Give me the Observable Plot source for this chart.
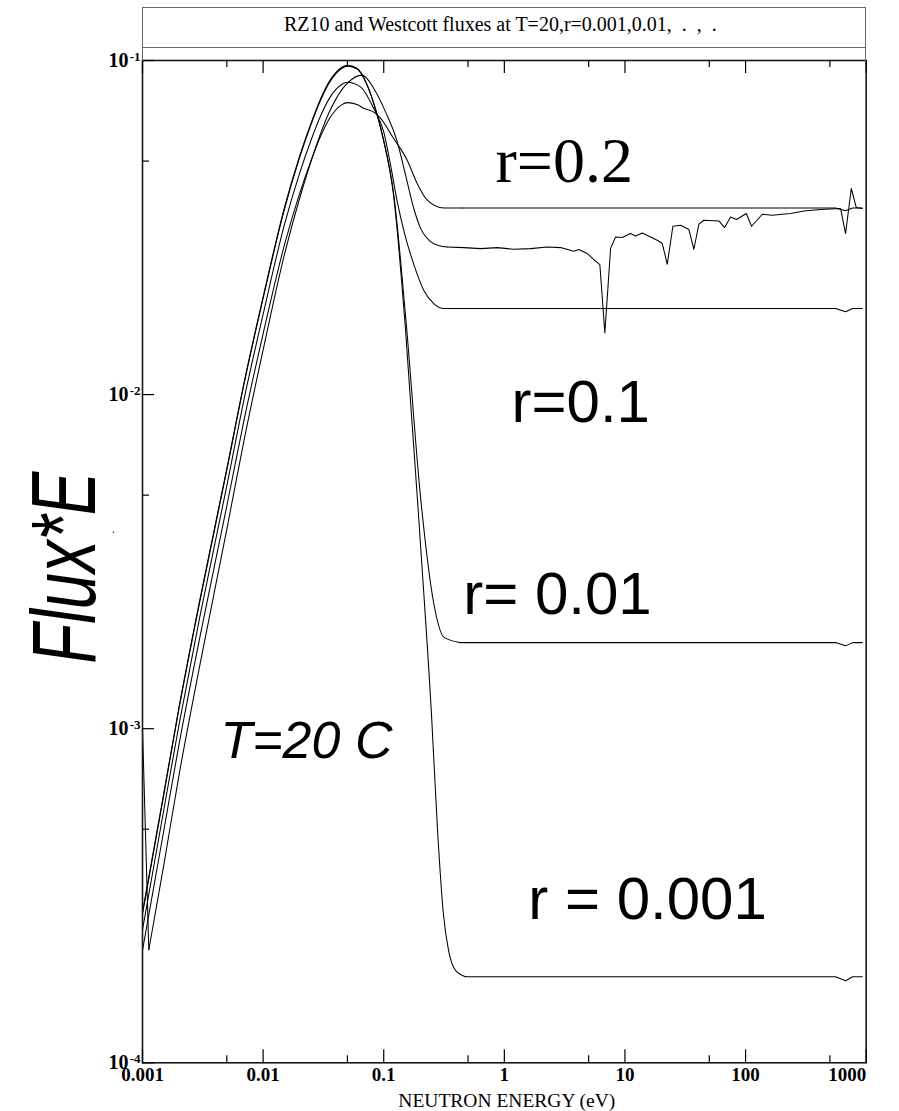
<!DOCTYPE html>
<html>
<head>
<meta charset="utf-8">
<script src="https://cdn.jsdelivr.net/npm/d3@7"></script>
<script src="https://cdn.jsdelivr.net/npm/@observablehq/plot@0.6"></script>
<style>
  html, body { margin: 0; padding: 0; background: #fff; }
  #wrap { position: relative; width: 899px; height: 1111px; overflow: hidden; }
  #wrap svg { position: absolute; left: 0; top: 0; }
  #wrap svg text { white-space: pre; }
  .box1 { position: absolute; left: 142px; top: 7px; width: 724px; height: 41px; box-sizing: border-box; border: 1.5px solid #666; }
  .box2 { position: absolute; left: 142px; top: 47px; width: 724px; height: 14px; box-sizing: border-box; border-left: 1.5px solid #666; border-right: 1.5px solid #666; }
</style>
</head>
<body>
<div id="wrap"></div>
<script>
// ---------------- data ----------------
const titleText = "RZ10 and Westcott fluxes at T=20,r=0.001,0.01,  .  ,  .";
const xLabel = "NEUTRON ENERGY (eV)";
const yLabel = "Flux*E";

const xMajor = [0.001, 0.01, 0.1, 1, 10, 100, 1000];
const xTickLabels = ["0.001", "0.01", "0.1", "1", "10", "100", "1000"];
const xMinor = [0.005, 0.05, 0.5, 5, 50, 500];
const yMajor = [0.1, 0.01, 0.001, 0.0001];
const yExponents = ["-1", "-2", "-3", "-4"];
const yMinor = [0.05, 0.005, 0.0005];

// thermal rise, common energies for the four Westcott curves
const energyLeft = [0.001, 0.0015, 0.002, 0.003, 0.005, 0.007, 0.01, 0.015, 0.02, 0.025, 0.03, 0.035, 0.04, 0.045, 0.05];
const fluxR0001Left = [2.82e-4, 6.4e-4, 1.15e-3, 2.45e-3, 6.0e-3, 0.0110, 0.0196, 0.0362, 0.0515, 0.065, 0.0768, 0.086, 0.092, 0.0955, 0.0968];
const fluxR001Left  = [2.79e-4, 6.33e-4, 1.14e-3, 2.42e-3, 5.94e-3, 0.0109, 0.0194, 0.0358, 0.0510, 0.0644, 0.0761, 0.0852, 0.0912, 0.0948, 0.0962];
const fluxR01Left   = [2.50e-4, 5.7e-4, 1.02e-3, 2.18e-3, 5.33e-3, 9.8e-3, 0.0174, 0.0322, 0.0458, 0.0578, 0.0683, 0.0765, 0.0818, 0.0849, 0.0861];
const fluxR02Left   = [2.17e-4, 4.95e-4, 8.9e-4, 1.89e-3, 4.64e-3, 8.5e-3, 0.0152, 0.0280, 0.0398, 0.0502, 0.0594, 0.0665, 0.0711, 0.0738, 0.0748];

// fall-off to the epithermal plateau
const energyR0001Right = [0.0603, 0.073, 0.0883, 0.1002, 0.1206, 0.1517, 0.2019, 0.2491, 0.2794, 0.3133, 0.3446, 0.3939, 0.4768];
const fluxR0001Right   = [0.0946, 0.0844, 0.0686, 0.0571, 0.0395, 0.01557, 3.54e-3, 1.096e-3, 4.96e-4, 2.76e-4, 2.17e-4, 1.89e-4, 1.81e-4];
const energyR001Right  = [0.0603, 0.073, 0.0883, 0.1002, 0.1206, 0.1517, 0.2019, 0.26, 0.315, 0.433];
const fluxR001Right    = [0.0942, 0.0842, 0.0688, 0.0575, 0.0402, 0.0172, 4.94e-3, 2.37e-3, 1.88e-3, 1.81e-3];
const energyR01Right   = [0.0642, 0.0827, 0.1, 0.115, 0.1294, 0.15, 0.1777, 0.215, 0.26, 0.315, 0.45];
const fluxR01Right     = [0.0834, 0.0718, 0.0611, 0.0478, 0.0378, 0.0300, 0.0245, 0.0205, 0.01873, 0.01809, 0.0181];
const energyR02Right   = [0.06, 0.0683, 0.0855, 0.094, 0.1206, 0.1566, 0.1896, 0.2295, 0.315, 0.45];
const fluxR02Right     = [0.0738, 0.072, 0.0695, 0.0672, 0.0585, 0.0503, 0.0428, 0.0382, 0.0362, 0.0362];

// plateau end with the small dip near 700 eV
const energyTail = [557, 675, 771, 928];
const fluxR0001Tail = [1.81e-4, 1.76e-4, 1.81e-4, 1.81e-4];
const fluxR001Tail  = [1.81e-3, 1.77e-3, 1.81e-3, 1.81e-3];
const fluxR01Tail   = [0.0181, 0.0177, 0.0181, 0.0181];
const fluxR02Tail   = [0.0362, 0.0355, 0.0362, 0.0362];

// RZ10 spectrum
const energyRZSpike = [0.001, 0.001128];
const fluxRZSpike   = [1.0e-3, 2.18e-4];
const energyRZSmooth = [0.001128, 0.0015, 0.002, 0.003, 0.005, 0.007, 0.01, 0.015, 0.02, 0.025, 0.03, 0.035, 0.04, 0.05, 0.0663, 0.0827, 0.1035, 0.1294, 0.1516, 0.1777, 0.2019, 0.2444, 0.29, 0.336];
const fluxRZSmooth   = [2.18e-4, 3.9e-4, 7.2e-4, 1.56e-3, 3.95e-3, 7.4e-3, 0.0136, 0.0262, 0.0385, 0.0500, 0.0605, 0.0695, 0.0765, 0.0855, 0.0904, 0.0825, 0.0702, 0.0571, 0.0455, 0.0360, 0.0315, 0.0287, 0.0279, 0.02767];
const energyRZJag = [0.336, 0.4615, 0.635, 0.873, 1.199, 1.649, 2.268, 2.924, 3.77, 4.147, 4.87, 5.52, 6.19, 6.81, 7.60, 8.36, 9.50, 11.13, 12.24, 13.91, 18.52, 20.39, 22.42, 24.96, 28.91, 33.88, 37.26, 41.01, 45.11, 60.06, 66.96, 75.08, 84.22, 101.3, 112.1, 137.6, 166.5, 201.5, 236.1, 304.3, 418.7, 613.5, 674.8, 752.3, 827.9, 928.4];
const fluxRZJag   = [0.02767, 0.02754, 0.02735, 0.02754, 0.02723, 0.02735, 0.02767, 0.02754, 0.02685, 0.02718, 0.02644, 0.02536, 0.02450, 0.01529, 0.0274, 0.02964, 0.02952, 0.03034, 0.02985, 0.03046, 0.02897, 0.02832, 0.02455, 0.03191, 0.03213, 0.03119, 0.02723, 0.03236, 0.03326, 0.03310, 0.03162, 0.03402, 0.03342, 0.03483, 0.03191, 0.03466, 0.03442, 0.03466, 0.03483, 0.03546, 0.03580, 0.03604, 0.03034, 0.04139, 0.03629, 0.03604];

// annotations (text, energy, flux)
const annoText = ["r=0.2", "r=0.1", "r= 0.01", "r = 0.001", "T=20 C"];
const annoE = [0.845, 1.147, 0.456, 1.579, 0.00443];
const annoF = [0.0433, 8.28e-3, 2.20e-3, 2.70e-4, 8.15e-4];

// ---------------- build tables ----------------
function rows(curve, part, E, F) {
  return E.map((e, i) => ({curve, part, key: curve + "|" + part, E: e, F: F[i]}));
}
const smoothRows = [
  ...rows("r=0.001", "main", [...energyLeft, ...energyR0001Right], [...fluxR0001Left, ...fluxR0001Right]),
  ...rows("r=0.01", "main", [...energyLeft, ...energyR001Right], [...fluxR001Left, ...fluxR001Right]),
  ...rows("r=0.1", "main", [...energyLeft, ...energyR01Right], [...fluxR01Left, ...fluxR01Right]),
  ...rows("r=0.2", "main", [...energyLeft, ...energyR02Right], [...fluxR02Left, ...fluxR02Right]),
  ...rows("RZ10", "main", energyRZSmooth, fluxRZSmooth)
];
const linearRows = [
  ...rows("r=0.001", "tail", [energyR0001Right.at(-1), ...energyTail], [fluxR0001Right.at(-1), ...fluxR0001Tail]),
  ...rows("r=0.01", "tail", [energyR001Right.at(-1), ...energyTail], [fluxR001Right.at(-1), ...fluxR001Tail]),
  ...rows("r=0.1", "tail", [energyR01Right.at(-1), ...energyTail], [fluxR01Right.at(-1), ...fluxR01Tail]),
  ...rows("r=0.2", "tail", [energyR02Right.at(-1), ...energyTail], [fluxR02Right.at(-1), ...fluxR02Tail]),
  ...rows("RZ10", "spike", energyRZSpike, fluxRZSpike),
  ...rows("RZ10", "jag", energyRZJag, fluxRZJag)
];
const annos = annoText.map((t, i) => ({t, E: annoE[i], F: annoF[i]}));

// ---------------- layout ----------------
const W = 899, H = 1111;
const mL = 142, mR = 33.3, mT = 60, mB = 48.7;
const innerW = W - mL - mR, innerH = H - mT - mB;
const SERIF = "'Liberation Serif', 'Times New Roman', serif";
const SANS = "'Liberation Sans', Arial, sans-serif";
const ink = "#000";

const chart = Plot.plot({
  width: W, height: H,
  marginLeft: mL, marginRight: mR, marginTop: mT, marginBottom: mB,
  style: {background: "transparent", color: ink},
  x: {type: "log", domain: [0.001, 1000], axis: null},
  y: {type: "log", domain: [1e-4, 1e-1], axis: null},
  marks: [
    // curves
    Plot.line(smoothRows, {x: "E", y: "F", z: "key", stroke: ink, strokeWidth: 1.05, curve: "monotone-x"}),
    Plot.line(linearRows, {x: "E", y: "F", z: "key", stroke: ink, strokeWidth: 1.05}),
    // frame
    Plot.frame({stroke: "#1a1a1a", strokeWidth: 1.6}),
    // inward ticks
    Plot.tickX(xMajor, {x: d => d, insetTop: innerH - 13, stroke: ink, strokeWidth: 1.2}),
    Plot.tickX(xMinor, {x: d => d, insetTop: innerH - 7, stroke: ink, strokeWidth: 1.2}),
    Plot.tickX(xMajor, {x: d => d, insetBottom: innerH - 13, stroke: ink, strokeWidth: 1.2}),
    Plot.tickX(xMinor, {x: d => d, insetBottom: innerH - 7, stroke: ink, strokeWidth: 1.2}),
    Plot.tickY(yMajor, {y: d => d, insetRight: innerW - 12, stroke: ink, strokeWidth: 1.2}),
    Plot.tickY(yMinor, {y: d => d, insetRight: innerW - 7, stroke: ink, strokeWidth: 1.2}),
    // x tick labels
    Plot.text(xMajor.slice(0, -1), {x: d => d, text: (d, i) => xTickLabels[i], frameAnchor: "bottom", lineAnchor: "bottom", dy: 17.7,
      fontSize: 19, fontWeight: "bold", fontFamily: SERIF, fill: ink}),
    Plot.text(xMajor.slice(-1), {x: d => d, text: () => xTickLabels.at(-1), frameAnchor: "bottom", lineAnchor: "bottom", dy: 17.7, textAnchor: "end",
      fontSize: 19, fontWeight: "bold", fontFamily: SERIF, fill: ink}),
    // y tick labels 10^k
    Plot.text(yMajor, {y: d => d, text: () => "10", frameAnchor: "left", textAnchor: "end", lineAnchor: "bottom", dx: -14, dy: 6,
      fontSize: 20, fontWeight: "bold", fontFamily: SERIF, fill: ink}),
    Plot.text(yMajor, {y: d => d, text: (d, i) => yExponents[i], frameAnchor: "left", textAnchor: "end", lineAnchor: "bottom", dx: -2, dy: 0,
      fontSize: 13, fontWeight: "bold", fontFamily: SERIF, fill: ink}),
    // axis labels
    Plot.text([xLabel], {text: d => d, frameAnchor: "bottom", lineAnchor: "bottom", textAnchor: "middle", dy: 44.5, dx: 2.5,
      fontSize: 19.5, fontFamily: SERIF, fill: ink}),
    Plot.text([yLabel], {text: d => d, frameAnchor: "left", lineAnchor: "bottom", textAnchor: "middle", rotate: -90, dx: -48, dy: 6,
      fontSize: 90, fontStyle: "italic", fontFamily: SANS, fill: ink}),
    Plot.text(["."], {text: d => d, frameAnchor: "left", lineAnchor: "bottom", textAnchor: "middle", dx: -29, dy: -29,
      fontSize: 12, fontFamily: SANS, fill: ink}),
    // title
    Plot.text([titleText], {text: d => d, frameAnchor: "top", lineAnchor: "bottom", textAnchor: "middle", dy: -30, dx: -4,
      fontSize: 20, fontFamily: SERIF, fill: ink}),
    // curve annotations
    Plot.text(annos.slice(0, 1), {x: "E", y: "F", text: "t", textAnchor: "start", lineAnchor: "bottom",
      fontSize: 64, fontFamily: SERIF, fill: ink}),
    Plot.text(annos.slice(1, 4), {x: "E", y: "F", text: "t", textAnchor: "start", lineAnchor: "bottom",
      fontSize: 60, fontFamily: SANS, fill: ink}),
    Plot.text(annos.slice(4), {x: "E", y: "F", text: "t", textAnchor: "start", lineAnchor: "bottom",
      fontSize: 52, fontStyle: "italic", fontFamily: SANS, fill: ink})
  ]
});

const wrap = document.getElementById("wrap");
wrap.appendChild(chart);
for (const t of chart.querySelectorAll("text")) {
  if (t.textContent === yLabel) {
    t.setAttribute("textLength", "192");
    t.setAttribute("lengthAdjust", "spacingAndGlyphs");
  }
}
const b1 = document.createElement("div"); b1.className = "box1"; wrap.appendChild(b1);
const b2 = document.createElement("div"); b2.className = "box2"; wrap.appendChild(b2);
</script>
</body>
</html>
